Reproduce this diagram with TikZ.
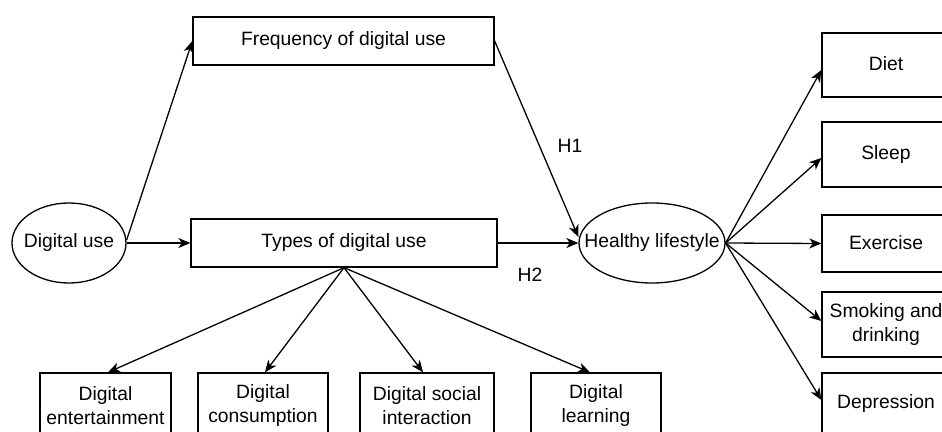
\documentclass[tikz,border=0pt]{standalone}
\usepackage{fontspec}
\setmainfont{Liberation Sans}
\usetikzlibrary{shapes.geometric,arrows.meta}
\begin{document}
\begin{tikzpicture}[x=1pt,y=-1pt,
  every node/.style={font=\fontsize{19.3}{24}\selectfont},
  box/.style={draw, line width=1.3pt, rectangle, inner sep=0pt, align=center},
  oval/.style={draw, line width=1.3pt, ellipse, inner sep=0pt},
  caption/.style={inner sep=0pt, align=center},
  link/.style={line width=1.3pt, -{Stealth[length=12pt,width=10pt,inset=3.5pt]}}
]
\useasboundingbox (0,0) rectangle (942,431);
\clip (0,0) rectangle (942,431);

% latent constructs
\node[oval, minimum width=114pt, minimum height=80pt] (du) at (69,243) {};
\node[caption] (dut) at (du) {Digital use};
\node[oval, minimum width=146pt, minimum height=80pt] (hl) at (652,243) {};
\node[caption] (hlt) at (hl) {Healthy lifestyle};

% mediating dimensions
\node[box, minimum width=301pt, minimum height=48pt] (freq) at (343.5,41) {Frequency of digital use};
\node[box, minimum width=306pt, minimum height=48pt] (types) at (344,243) {Types of digital use};

% types of digital use
\node[box, minimum width=131pt, minimum height=66pt] (ent) at (105.5,406) {Digital\\entertainment};
\node[box, minimum width=130pt, minimum height=66pt] (con) at (263,406) {Digital\\consumption};
\node[box, minimum width=134pt, minimum height=66pt] (soc) at (427,406) {Digital social\\interaction};
\node[box, minimum width=130pt, minimum height=66pt] (lrn) at (596,406) {Digital\\learning};

% healthy lifestyle indicators
\node[box, minimum width=128pt, minimum height=64pt] (diet) at (886,65) {};
\node[caption] (dietT) at (886,64) {Diet};
\node[box, minimum width=128pt, minimum height=65pt] (sleep) at (886,154.5) {};
\node[caption] (sleepT) at (886,155) {Sleep};
\node[box, minimum width=128pt, minimum height=57pt] (exer) at (886,243.5) {};
\node[caption] (exerT) at (886,243) {Exercise};
\node[box, minimum width=128pt, minimum height=65pt] (smk) at (886,324.5) {};
\node[caption] (smkT) at (886,325) {Smoking and\\drinking};
\node[box, minimum width=128pt, minimum height=64pt] (dep) at (886,405) {};
\node[caption] (depT) at (886,404) {Depression};

% hypothesis labels
\node[caption] (h1) at (570,146) {H1};
\node[caption] (h2) at (530,275) {H2};

% paths
\draw[link] ([yshift=3pt]du.east) -- (freq.west);
\draw[link] (du.east) -- (types.west);
\draw[link] (freq.east) -- ([yshift=6pt]hl.west);
\draw[link] (types.east) -- (hl.west);

\draw[link] (types.south) -- ([xshift=2.5pt]ent.north);
\draw[link] (types.south) -- ([xshift=2pt]con.north);
\draw[link] (types.south) -- ([xshift=-4pt]soc.north);
\draw[link] (types.south) -- ([xshift=-6pt]lrn.north);

\draw[link] (hl.east) -- ([yshift=-5pt]diet.west);
\draw[link] (hl.east) -- ([yshift=-3.5pt]sleep.west);
\draw[link] (hl.east) -- (exer.west);
\draw[link] (hl.east) -- ([yshift=3.5pt]smk.west);
\draw[link] (hl.east) -- ([yshift=5pt]dep.west);
\end{tikzpicture}
\end{document}
